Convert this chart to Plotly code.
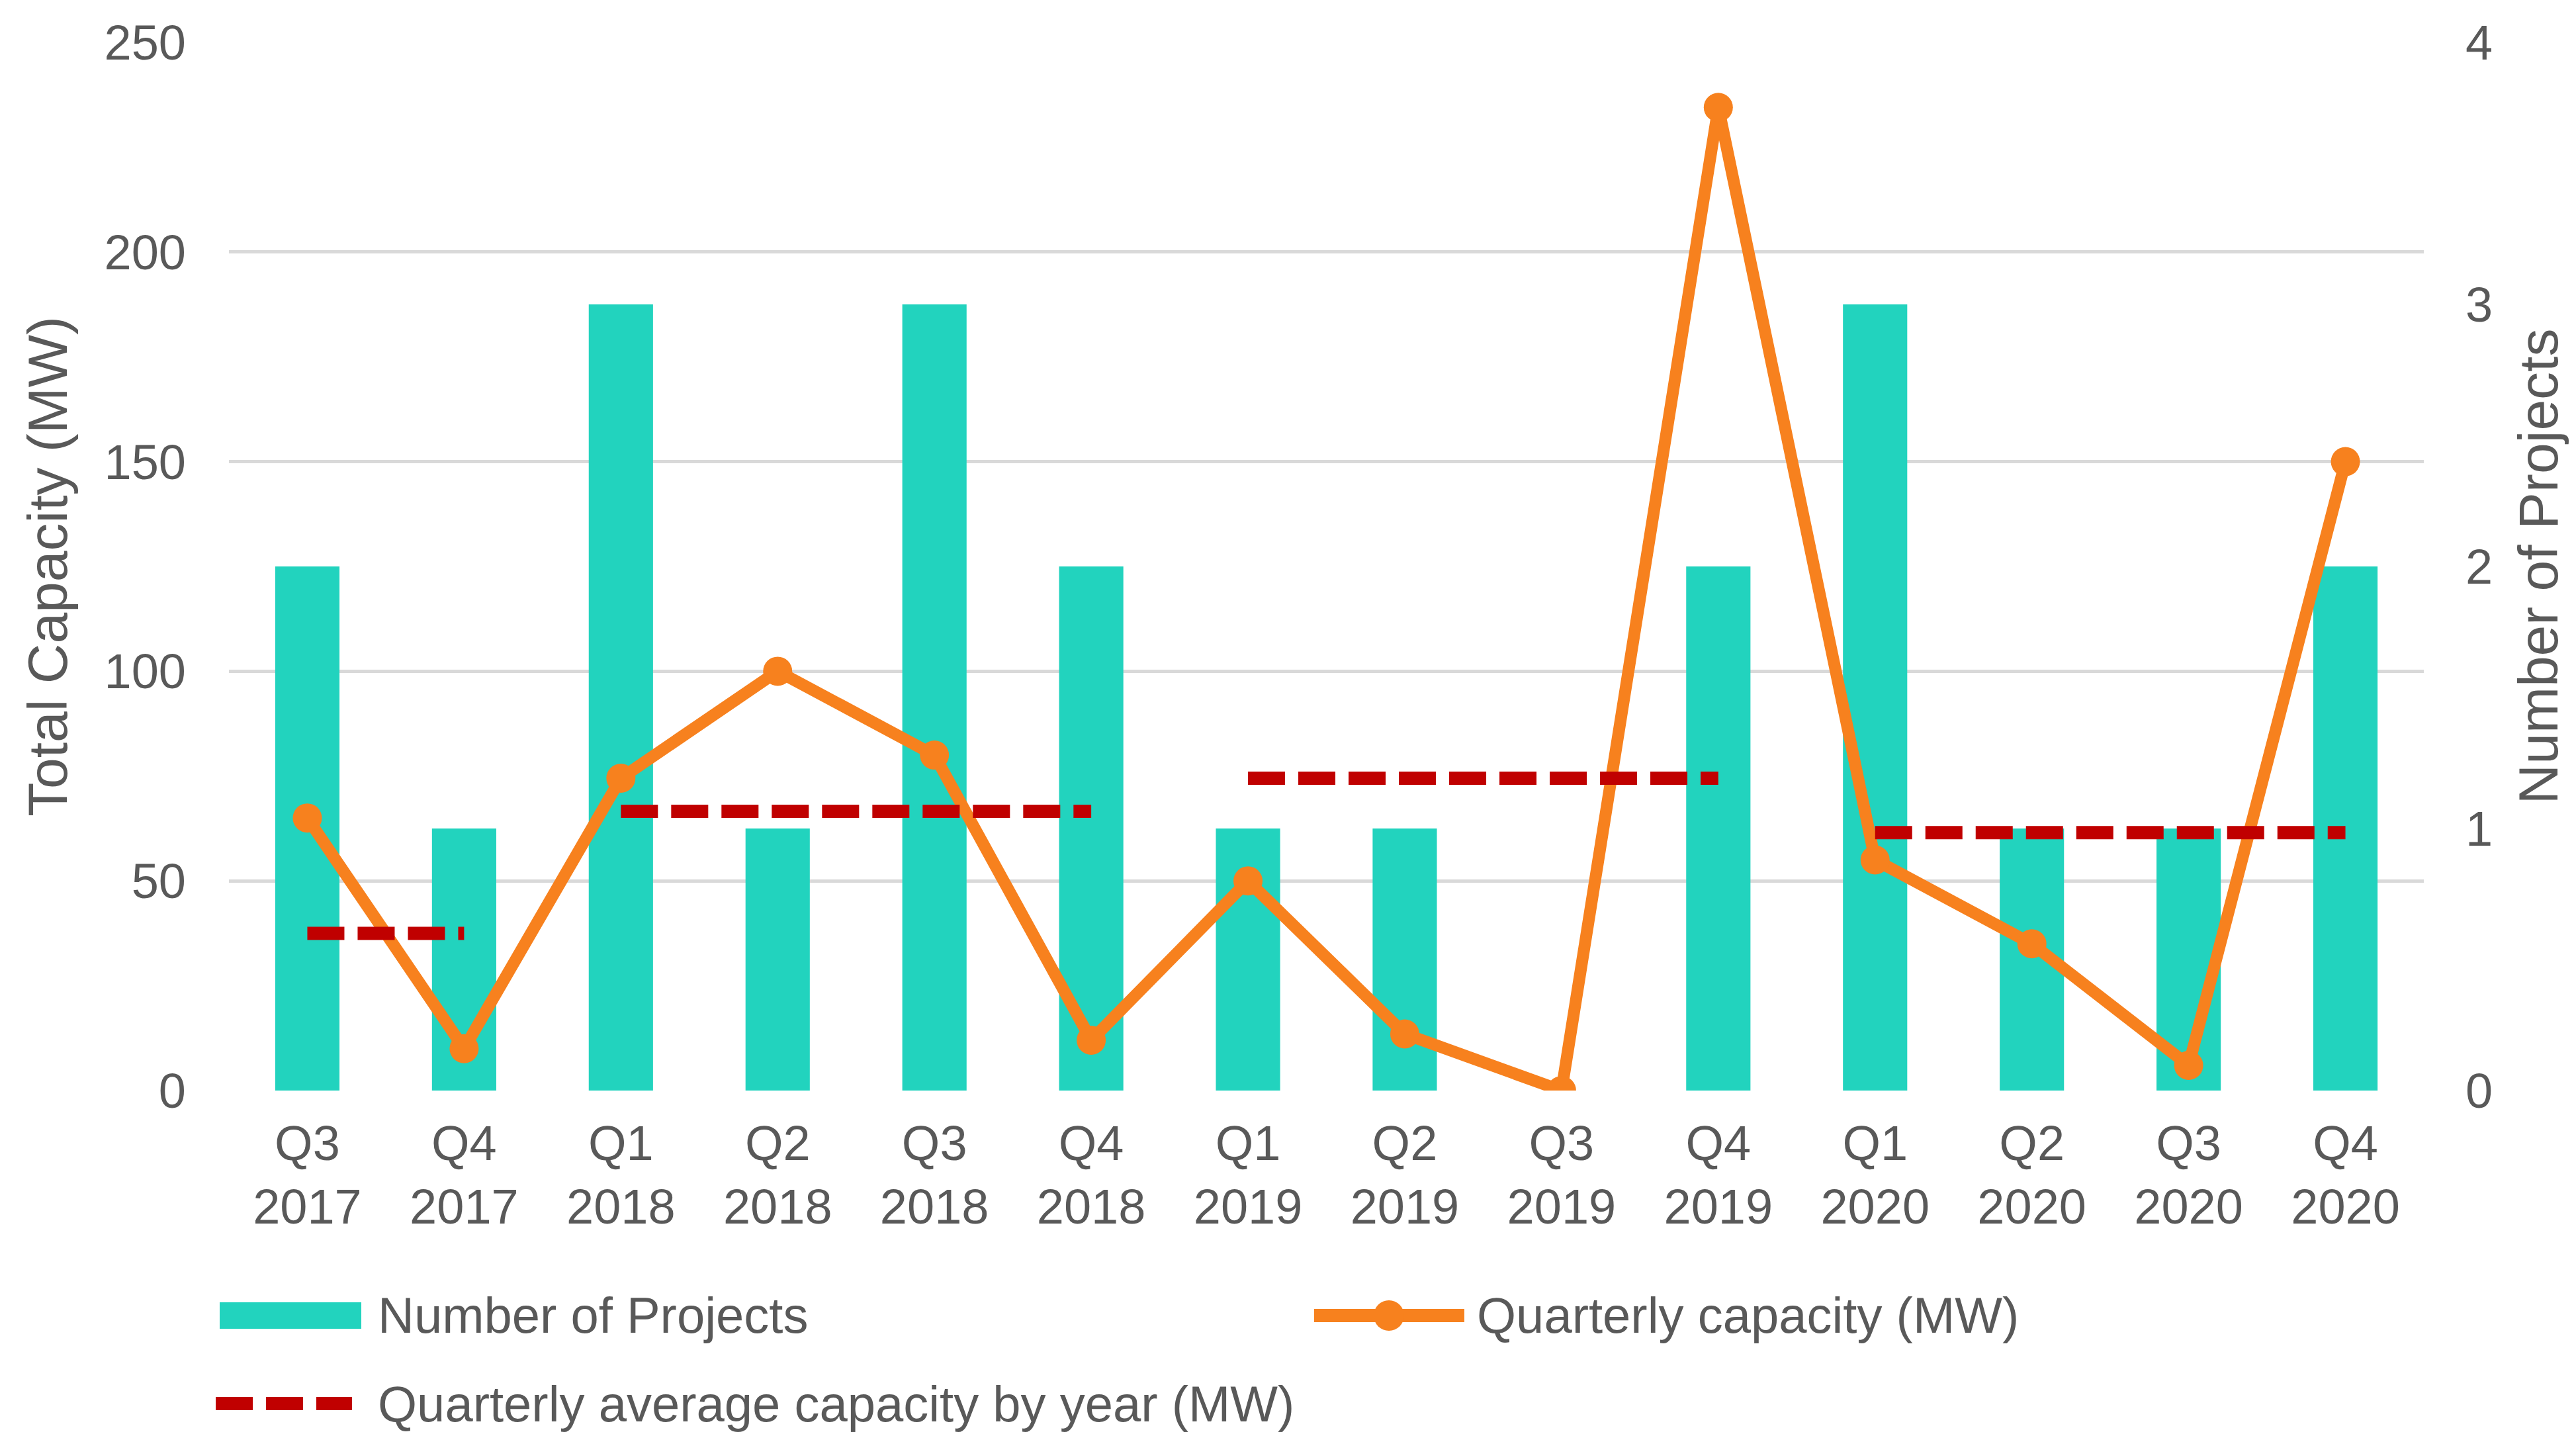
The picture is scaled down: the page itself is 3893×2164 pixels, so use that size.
import plotly.graph_objects as go

# ---------------- data ----------------
quarters = ["Q3 2017", "Q4 2017", "Q1 2018", "Q2 2018", "Q3 2018", "Q4 2018",
            "Q1 2019", "Q2 2019", "Q3 2019", "Q4 2019", "Q1 2020", "Q2 2020",
            "Q3 2020", "Q4 2020"]
tick_labels = [q.replace(" ", "<br>") for q in quarters]
num_projects = [2, 1, 3, 1, 3, 2, 1, 1, 0, 2, 3, 1, 1, 2]
quarterly_capacity = [65, 10, 74.5, 100, 80, 12, 50, 13.5, 0, 234.5, 55, 35, 6, 150]
years = ["2017", "2018", "2019", "2020"]
year_avg_capacity = [37.5, 66.6, 74.5, 61.5]

# ---------------- style ----------------
W, H = 3893, 2164
L, R, T, B = 338, 238, 56, 524
FONT = "Liberation Sans, Arial, sans-serif"
TXT = "#595959"
TEAL = "#22D3BE"
ORANGE = "#F7811E"
RED = "#C00000"
GRID = "#D9D9D9"

# build the stepped yearly-average line (one segment per year)
avg_x, avg_y = [], []
for yr, val in zip(years, year_avg_capacity):
    qs = [q for q in quarters if q.endswith(yr)]
    avg_x += [qs[0], qs[-1], None]
    avg_y += [val, val, None]

fig = go.Figure()
fig.add_trace(go.Bar(x=quarters, y=num_projects, name="Number of Projects",
                     marker=dict(color=TEAL, line=dict(width=0)), yaxis="y"))
fig.add_trace(go.Scatter(x=quarters, y=quarterly_capacity, name="Quarterly capacity (MW)",
                         mode="lines+markers", yaxis="y2",
                         line=dict(color=ORANGE, width=18),
                         marker=dict(color=ORANGE, size=44)))
fig.add_trace(go.Scatter(x=avg_x, y=avg_y, name="Quarterly average capacity by year (MW)",
                         mode="lines", yaxis="y2", connectgaps=False,
                         line=dict(color=RED, width=20, dash="56px,20px")))

fig.update_layout(
    width=W, height=H,
    margin=dict(l=L, r=R, t=T, b=B),
    paper_bgcolor="white", plot_bgcolor="white",
    showlegend=False,
    bargap=0.59,
    font=dict(family=FONT, size=74, color=TXT),
    xaxis=dict(type="category", tickmode="array", tickvals=quarters, ticktext=tick_labels,
               range=[-0.5, len(quarters) - 0.5],
               showgrid=False, showline=False, zeroline=False, ticks="",
               ticklabelstandoff=30,
               tickfont=dict(family=FONT, size=74, color=TXT)),
    yaxis=dict(side="right", range=[0, 4], dtick=1, showgrid=False, zeroline=False,
               showline=False, ticks="", ticklabelstandoff=62,
               tickfont=dict(family=FONT, size=74, color=TXT),
               title=dict(text="Number of Projects", standoff=40,
                          font=dict(family=FONT, size=84, color=TXT))),
    yaxis2=dict(overlaying="y", side="left", range=[0, 250], dtick=50,
                showgrid=True, gridcolor=GRID, gridwidth=5, zeroline=False,
                showline=False, ticks="", ticklabelstandoff=64,
                tickfont=dict(family=FONT, size=74, color=TXT),
                title=dict(text="Total Capacity (MW)", standoff=28,
                           font=dict(family=FONT, size=84, color=TXT))),
)

# ---------------- manual legend ----------------
PW, PH = W - L - R, H - T - B
def px(xp):
    return (xp - L) / PW
def py(yp):
    return (H - B - yp) / PH

row1, row2 = 1980, 2113
shapes = [
    dict(type="rect", xref="paper", yref="paper",
         x0=px(324), x1=px(538), y0=py(row1 + 20), y1=py(row1 - 20),
         fillcolor=TEAL, line=dict(width=0)),
    dict(type="line", xref="paper", yref="paper",
         x0=px(1978), x1=px(2205), y0=py(row1), y1=py(row1),
         line=dict(color=ORANGE, width=20)),
    dict(type="circle", xref="paper", yref="paper",
         xsizemode="pixel", ysizemode="pixel",
         xanchor=px(2091), yanchor=py(row1),
         x0=-23, x1=23, y0=-23, y1=23,
         fillcolor=ORANGE, line=dict(width=0)),
    dict(type="line", xref="paper", yref="paper",
         x0=px(318), x1=px(524), y0=py(row2), y1=py(row2),
         line=dict(color=RED, width=20, dash="56px,20px")),
]
legend_texts = [("Number of Projects", 561, row1),
                ("Quarterly capacity (MW)", 2222, row1),
                ("Quarterly average capacity by year (MW)", 561, row2)]
annotations = [dict(text=t, xref="paper", yref="paper", x=px(x), y=py(y),
                    xanchor="left", yanchor="middle", showarrow=False,
                    font=dict(family=FONT, size=76, color=TXT))
               for t, x, y in legend_texts]
fig.update_layout(shapes=shapes, annotations=annotations)

fig.write_html("out.html")
